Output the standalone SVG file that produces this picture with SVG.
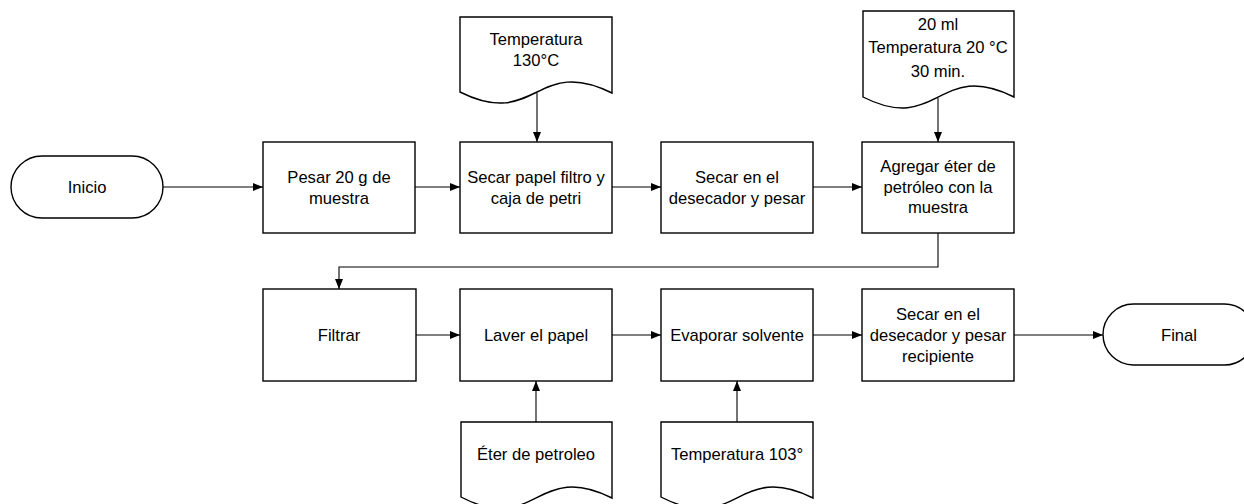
<svg xmlns="http://www.w3.org/2000/svg" width="1244" height="504" viewBox="0 0 1244 504">
<style>
.s{fill:#fff;stroke:#000;stroke-width:1.4}
.c{fill:none;stroke:#000;stroke-width:1.1}
text{font-family:"Liberation Sans",Arial,sans-serif;font-size:16.6px;fill:#000;text-anchor:middle}
</style>
<defs>
<marker id="a" viewBox="0 0 10 8" refX="10" refY="4" markerWidth="10" markerHeight="8" markerUnits="userSpaceOnUse" orient="auto">
<path d="M0,0 L10,4 L0,8 Z" fill="#000"/>
</marker>
</defs>
<rect width="1244" height="504" fill="#fff"/>
<g id="connectors">
<path class="c" d="M163,187 H263" marker-end="url(#a)"/>
<path class="c" d="M415,187 H460" marker-end="url(#a)"/>
<path class="c" d="M612,187 H661" marker-end="url(#a)"/>
<path class="c" d="M813,187 H862" marker-end="url(#a)"/>
<path class="c" d="M537,93 V142" marker-end="url(#a)"/>
<path class="c" d="M938,98 V142" marker-end="url(#a)"/>
<path class="c" d="M938,233 V267 H339 V289" marker-end="url(#a)"/>
<path class="c" d="M416,335 H460" marker-end="url(#a)"/>
<path class="c" d="M612,335 H661" marker-end="url(#a)"/>
<path class="c" d="M813,335 H862" marker-end="url(#a)"/>
<path class="c" d="M1014,335 H1103" marker-end="url(#a)"/>
<path class="c" d="M536,422 V381" marker-end="url(#a)"/>
<path class="c" d="M737,422 V381" marker-end="url(#a)"/>
</g>
<g id="inicio">
<rect class="s" x="11" y="156" width="152" height="62" rx="31" ry="31"/>
<text x="87" y="193">Inicio</text>
</g>
<g id="pesar">
<rect class="s" x="263" y="142" width="152" height="91"/>
<text x="339" y="183">Pesar 20 g de</text>
<text x="339" y="204">muestra</text>
</g>
<g id="doc130">
<path class="s" d="M460,17 V92 C536,130 536,55 612,93 V17 Z"/>
<text x="536" y="45">Temperatura</text>
<text x="536" y="66">130°C</text>
</g>
<g id="secarpapel">
<rect class="s" x="460" y="142" width="152" height="91"/>
<text x="536" y="183">Secar papel filtro y</text>
<text x="536" y="204">caja de petri</text>
</g>
<g id="secardesecador">
<rect class="s" x="661" y="142" width="152" height="91"/>
<text x="737" y="183">Secar en el</text>
<text x="737" y="204">desecador y pesar</text>
</g>
<g id="doc20ml">
<path class="s" d="M863,11 V97 C938,135 938,59 1014,97 V11 Z"/>
<text x="938" y="30">20 ml</text>
<text x="938" y="53">Temperatura 20 °C</text>
<text x="938" y="77">30 min.</text>
</g>
<g id="agregar">
<rect class="s" x="862" y="142" width="152" height="91"/>
<text x="938" y="172">Agregar éter de</text>
<text x="938" y="193">petróleo con la</text>
<text x="938" y="213">muestra</text>
</g>
<g id="filtrar">
<rect class="s" x="263" y="289" width="153" height="92"/>
<text x="339" y="341">Filtrar</text>
</g>
<g id="laver">
<rect class="s" x="460" y="289" width="152" height="92"/>
<text x="536" y="341">Laver el papel</text>
</g>
<g id="evaporar">
<rect class="s" x="661" y="289" width="152" height="92"/>
<text x="737" y="341">Evaporar solvente</text>
</g>
<g id="secarfinal">
<rect class="s" x="862" y="289" width="152" height="92"/>
<text x="938" y="320">Secar en el</text>
<text x="938" y="341">desecador y pesar</text>
<text x="938" y="362">recipiente</text>
</g>
<g id="final">
<rect class="s" x="1103" y="304" width="152" height="61" rx="30.5" ry="30.5"/>
<text x="1179" y="341">Final</text>
</g>
<g id="doceter">
<path class="s" d="M461,422 V497 C536,536 536,460 612,498 V422 Z"/>
<text x="536" y="460">Éter de petroleo</text>
</g>
<g id="doc103">
<path class="s" d="M661,422 V497 C737,536 737,460 813,498 V422 Z"/>
<text x="737" y="460">Temperatura 103°</text>
</g>
</svg>
